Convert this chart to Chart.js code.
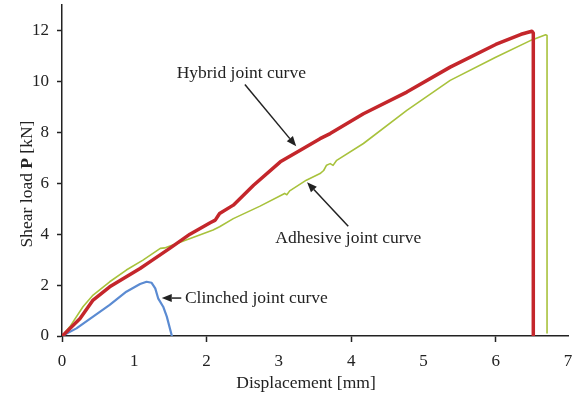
<!DOCTYPE html>
<html><head><meta charset="utf-8">
<script src="https://cdn.jsdelivr.net/npm/chart.js@4/dist/chart.umd.min.js"></script>
<style>html,body{margin:0;padding:0;background:#fff}#wrap{width:573px;height:399px}</style>
</head><body><div id="wrap"><canvas id="c" width="573" height="399"></canvas></div>
<script>
// ---- data ----
const hybridX = [0, 0.04, 0.25, 0.43, 0.66, 0.89, 1.08, 1.22, 1.49, 1.77, 2.05, 2.12, 2.18, 2.37, 2.65, 3.02, 3.29, 3.57, 3.71, 4.17, 4.77, 5.37, 6.0, 6.35, 6.50, 6.52, 6.52];
const hybridY = [0, 0.10, 0.69, 1.41, 1.93, 2.33, 2.65, 2.92, 3.44, 4.00, 4.45, 4.55, 4.81, 5.14, 5.92, 6.84, 7.29, 7.75, 7.95, 8.73, 9.58, 10.56, 11.45, 11.85, 11.97, 11.9, 0];
const adhesiveX = [0, 0.11, 0.29, 0.43, 0.66, 0.89, 1.12, 1.36, 1.42, 2.09, 2.18, 2.37, 2.74, 3.08, 3.11, 3.15, 3.38, 3.57, 3.62, 3.66, 3.71, 3.75, 3.80, 4.17, 4.77, 5.37, 6.0, 6.5, 6.69, 6.71, 6.71];
const adhesiveY = [0, 0.37, 1.15, 1.61, 2.13, 2.59, 2.98, 3.44, 3.46, 4.16, 4.29, 4.61, 5.10, 5.60, 5.55, 5.70, 6.12, 6.38, 6.50, 6.71, 6.77, 6.70, 6.90, 7.56, 8.86, 10.04, 10.95, 11.63, 11.83, 11.80, 0.12];
const clinchedX = [0, 0.20, 0.43, 0.66, 0.89, 1.08, 1.17, 1.24, 1.29, 1.33, 1.40, 1.45, 1.52];
const clinchedY = [0, 0.30, 0.76, 1.22, 1.74, 2.04, 2.13, 2.09, 1.87, 1.48, 1.15, 0.76, 0];
const xTickValues = [0, 1, 2, 3, 4, 5, 6, 7];
const yTickValues = [0, 2, 4, 6, 8, 10, 12];
const xTitle = 'Displacement [mm]';
const yTitleParts = ['Shear load ', 'P', ' [kN]'];
const seriesNames = ['Hybrid joint curve', 'Adhesive joint curve', 'Clinched joint curve'];
// annotation anchors in data units
const annoText = [
  {text: 'Hybrid joint curve', x: 2.48, y: 10.31, align: 'center'},
  {text: 'Adhesive joint curve', x: 3.96, y: 3.84, align: 'center'},
  {text: 'Clinched joint curve', x: 1.70, y: 1.49, align: 'left'}
];
const annoArrows = [
  {x1: 2.53, y1: 9.88, x2: 3.24, y2: 7.45},
  {x1: 3.96, y1: 4.31, x2: 3.39, y2: 6.04},
  {x1: 1.65, y1: 1.49, x2: 1.38, y2: 1.49}
];

const zip = (xs, ys) => xs.map((v, i) => ({x: v, y: ys[i]}));
const SERIF = '"Liberation Serif", "Times New Roman", serif';
const INK = '#222';

const deco = {
  id: 'deco',
  afterDraw(chart) {
    const {ctx, chartArea: a, scales: {x, y}} = chart;
    ctx.save();
    ctx.fillStyle = INK; ctx.strokeStyle = INK;
    // x title
    ctx.font = '17.5px ' + SERIF;
    ctx.textAlign = 'center'; ctx.textBaseline = 'alphabetic';
    ctx.fillText(xTitle, (a.left + a.right) / 2 - 9, 388);
    // y title with bold P
    ctx.save();
    ctx.translate(32, 184); ctx.rotate(-Math.PI / 2);
    const fonts = ['17.5px ' + SERIF, 'bold 17.5px ' + SERIF, '17.5px ' + SERIF];
    let total = 0;
    const w = yTitleParts.map((t, i) => { ctx.font = fonts[i]; const m = ctx.measureText(t).width; total += m; return m; });
    let cx = -total / 2;
    ctx.textAlign = 'left';
    yTitleParts.forEach((t, i) => { ctx.font = fonts[i]; ctx.fillText(t, cx, 0); cx += w[i]; });
    ctx.restore();
    // annotations
    ctx.font = '17.5px ' + SERIF;
    ctx.textBaseline = 'middle';
    annoText.forEach(t => {
      ctx.textAlign = t.align;
      ctx.fillText(t.text, x.getPixelForValue(t.x), y.getPixelForValue(t.y));
    });
    ctx.lineWidth = 1.5;
    annoArrows.forEach(r => {
      const x1 = x.getPixelForValue(r.x1), y1 = y.getPixelForValue(r.y1);
      const x2 = x.getPixelForValue(r.x2), y2 = y.getPixelForValue(r.y2);
      const ang = Math.atan2(y2 - y1, x2 - x1);
      const L = 10, W = 4;
      const bx = x2 - L * Math.cos(ang), by = y2 - L * Math.sin(ang);
      ctx.beginPath(); ctx.moveTo(x1, y1); ctx.lineTo(bx, by); ctx.stroke();
      ctx.beginPath();
      ctx.moveTo(x2, y2);
      ctx.lineTo(bx + W * Math.sin(ang), by - W * Math.cos(ang));
      ctx.lineTo(bx - W * Math.sin(ang), by + W * Math.cos(ang));
      ctx.closePath(); ctx.fill();
    });
    ctx.restore();
  }
};

new Chart(document.getElementById('c'), {
  type: 'line',
  data: {
    datasets: [
      {label: seriesNames[0], data: zip(hybridX, hybridY), borderColor: '#c4262b', borderWidth: 3.5},
      {label: seriesNames[1], data: zip(adhesiveX, adhesiveY), borderColor: '#a8c23c', borderWidth: 1.6},
      {label: seriesNames[2], data: zip(clinchedX, clinchedY), borderColor: '#5b8bd2', borderWidth: 2.2}
    ].map(d => Object.assign(d, {pointRadius: 0, tension: 0, fill: false, borderJoinStyle: 'round', borderCapStyle: 'round'}))
  },
  options: {
    responsive: false,
    animation: false,
    layout: {padding: {top: 5, right: 5, left: 0, bottom: 0}},
    plugins: {legend: {display: false}, tooltip: {enabled: false}},
    scales: {
      x: {
        type: 'linear', min: 0, max: 7,
        afterFit: s => { s.height = 63; s.paddingLeft = 0; s.paddingRight = 0; },
        afterBuildTicks: s => { s.ticks = xTickValues.map(v => ({value: v})); },
        grid: {drawOnChartArea: false, tickLength: 6, tickWidth: 1.5,
               tickColor: c => (c.tick && c.tick.value % 2 === 0) ? INK : 'rgba(0,0,0,0)'},
        border: {color: INK, width: 1.5},
        ticks: {color: INK, font: {family: SERIF, size: 17}, padding: 9, maxRotation: 0, autoSkip: false}
      },
      y: {
        min: 0, max: 13,
        afterFit: s => { s.width = 62; s.paddingTop = 0; s.paddingBottom = 0; },
        afterBuildTicks: s => { s.ticks = yTickValues.map(v => ({value: v})); },
        grid: {drawOnChartArea: false, tickLength: 5, tickWidth: 1.5, tickColor: INK},
        border: {color: INK, width: 1.5},
        ticks: {color: INK, font: {family: SERIF, size: 17}, padding: 8}
      }
    }
  },
  plugins: [deco]
});
</script>
</body></html>
